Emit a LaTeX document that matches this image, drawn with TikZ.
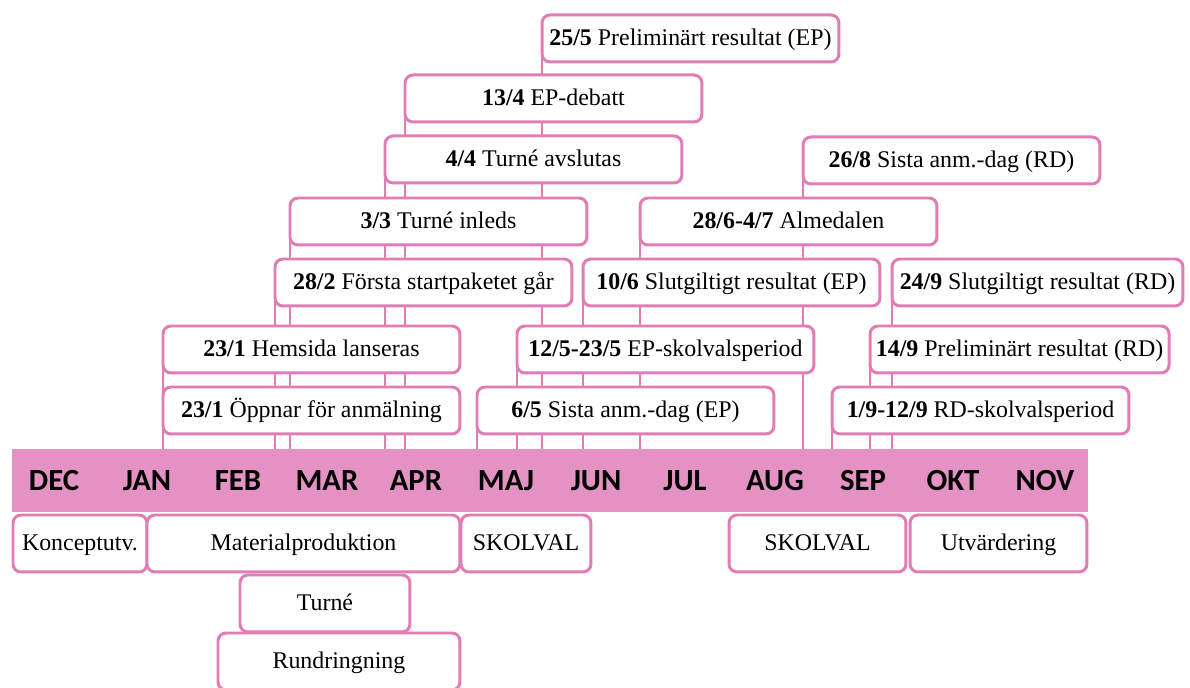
\documentclass[tikz,border=0pt]{standalone}
\usepackage{fontspec}
\setmainfont{Liberation Serif}
\newfontfamily\monthfont{Carlito}
\usetikzlibrary{backgrounds}
\definecolor{rosa}{RGB}{226,124,180}
\definecolor{rosaband}{RGB}{228,146,196}
\begin{document}
\begin{tikzpicture}[x=0.02cm, y=-0.02cm,
    event/.style={draw=rosa, line width=1.7pt, fill=white, rounded corners=0.16cm,
      anchor=north west, outer sep=0pt, minimum width=5.94cm, minimum height=0.94cm,
      text height=9pt, text depth=1.5pt, font=\fontsize{13.6}{15}\selectfont},
    phase/.style={event, minimum height=1.14cm},
    month/.style={font=\monthfont\bfseries\fontsize{17.5}{20}\selectfont},
    link/.style={draw=rosa, line width=1.4pt}]
  \useasboundingbox (0,0) rectangle (1190,688);
  % the month band
  \node[fill=rosaband, anchor=north west, inner sep=0pt, outer sep=0pt,
    minimum width=21.52cm, minimum height=1.26cm] (band) at (12,449) {};
  \foreach \m/\x in {DEC/54, JAN/147, FEB/238, MAR/327, APR/416, MAJ/506,
      JUN/596, JUL/685, AUG/775, SEP/863, OKT/953, NOV/1045}
    \node[month] (m\m) at (\x,481) {\m};
  % dates above the band
  \node[event] (prelEP) at (542,15) {\textbf{25/5} Preliminärt resultat (EP)};
  \node[event] (debatt) at (405,75) {\textbf{13/4} EP-debatt};
  \node[event] (turneEnd) at (385,136) {\textbf{4/4} Turné avslutas};
  \node[event] (anmRD) at (803,137) {\textbf{26/8} Sista anm.-dag (RD)};
  \node[event] (turneStart) at (290,198) {\textbf{3/3} Turné inleds};
  \node[event] (almedalen) at (640,198) {\textbf{28/6-4/7} Almedalen};
  \node[event] (startpaket) at (275,259) {\textbf{28/2} Första startpaketet går};
  \node[event] (slutEP) at (583,259) {\textbf{10/6} Slutgiltigt resultat (EP)};
  \node[event, minimum width=5.82cm] (slutRD) at (892,259) {\textbf{24/9} Slutgiltigt resultat (RD)};
  \node[event] (hemsida) at (163,326) {\textbf{23/1} Hemsida lanseras};
  \node[event] (skolvalEP) at (517,326) {\textbf{12/5-23/5} EP-skolvalsperiod};
  \node[event] (prelRD) at (870,326) {\textbf{14/9} Preliminärt resultat (RD)};
  \node[event] (oppnar) at (163,387) {\textbf{23/1} Öppnar för anmälning};
  \node[event] (anmEP) at (477,387) {\textbf{6/5} Sista anm.-dag (EP)};
  \node[event] (skolvalRD) at (832,387) {\textbf{1/9-12/9} RD-skolvalsperiod};
  % phases below the band
  \node[phase, minimum width=2.68cm] (koncept) at (13,515) {Konceptutv.};
  \node[phase, minimum width=6.26cm] (material) at (147,515) {Materialproduktion};
  \node[phase, minimum width=2.6cm] (skolvalA) at (461,515) {SKOLVAL};
  \node[phase, minimum width=3.54cm] (skolvalB) at (729,515) {SKOLVAL};
  \node[phase, minimum width=3.54cm] (utvard) at (910,515) {Utvärdering};
  \node[phase, minimum width=3.4cm] (turne) at (240,575) {Turné};
  \node[phase, minimum width=4.84cm] (rundring) at (218,633) {Rundringning};
  % lines down to the band
  \begin{scope}[on background layer]
    \foreach \n in {prelEP, debatt, turneEnd, anmRD, turneStart, almedalen,
        startpaket, slutEP, slutRD, hemsida, skolvalEP, prelRD, oppnar,
        anmEP, skolvalRD}
      \draw[link] (\n.west) -- (\n.west |- band.north);
  \end{scope}
\end{tikzpicture}
\end{document}
